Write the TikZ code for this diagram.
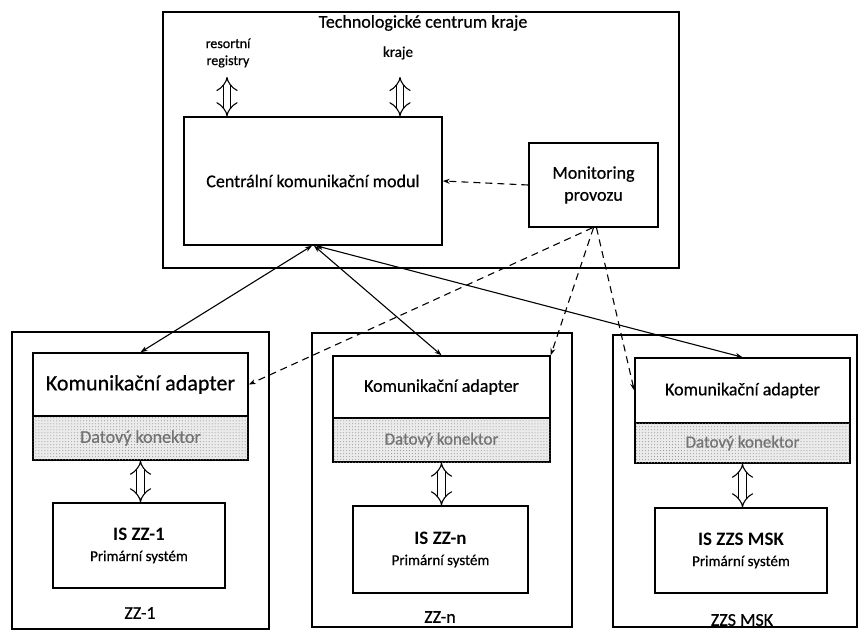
\documentclass[tikz,border=0pt]{standalone}
\usepackage{fontspec}
\setmainfont{Carlito}[UprightFeatures={FakeBold=0.6}]
\usetikzlibrary{arrows.meta,patterns}

\tikzset{
  box/.style={draw, line width=1.5bp, inner sep=0pt},
  adapter/.style={box, fill=white},
  konektor/.style={box, fill=black!8, postaction={pattern=dots, pattern color=black!45},
    text=black!55},
  fs/.style={font=\fontsize{#1bp}{#1bp}\selectfont},
  islabel/.style={box, align=center, font=\fontsize{15bp}{18bp}\selectfont},
  link/.style={line width=1.1bp, {Stealth[length=7bp,width=5bp]}-{Stealth[length=7bp,width=5bp]}},
  watch/.style={line width=1.1bp, dash pattern=on 7bp off 5bp, -{Stealth[length=7bp,width=5bp]}},
  hollow/.style={double distance=6.5bp, line width=1.1bp, {Implies[]}-{Implies[]}},
}

\begin{document}
\begin{tikzpicture}[x=1bp,y=-1bp]
  \useasboundingbox[fill=white] (0,0) rectangle (860,639);

  % Technologické centrum kraje
  \node[box, minimum width=516bp, minimum height=256bp] (tc) at (421,140) {};
  \node[fs=18] (tctitle) at (423,23) {Technologické centrum kraje};
  \node[align=center, font=\fontsize{14bp}{17bp}\selectfont] (rr) at (228,53) {resortní\\registry};
  \node[fs=15] (kr) at (398,53) {kraje};
  \coordinate (rrEnd) at (227,77);
  \coordinate (krEnd) at (400,77);

  \node[box, minimum width=258bp, minimum height=128bp, fs=18] (cm) at (313,181) {Centrální komunikační modul};
  \node[box, minimum width=129bp, minimum height=84bp, align=center,
        font=\fontsize{18bp}{22bp}\selectfont] (mon) at (593.5,185) {Monitoring\\provozu};

  \draw[hollow] (rrEnd) -- (rrEnd |- cm.north);
  \draw[hollow] (krEnd) -- (krEnd |- cm.north);
  \draw[watch] (mon.west) -- (cm.east);

  % ZZ-1
  \node[box, minimum width=257bp, minimum height=297bp] (zz1) at (140.5,480.5) {};
  \node[adapter, minimum width=215bp, minimum height=63bp, fs=22] (ka1) at (140.5,384.5) {Komunikační adapter};
  \node[konektor, minimum width=215bp, minimum height=44bp, fs=18] (dk1) at (140.5,438) {Datový konektor};
  \node[islabel, minimum width=172bp, minimum height=85bp] (is1) at (139,545.5)
    {{\fontsize{19bp}{22bp}\selectfont\bfseries IS ZZ-1}\\[3bp]Primární systém};
  \node[fs=18] (l1) at (140,613) {ZZ-1};
  \draw[hollow] (dk1.south) -- (dk1.south |- is1.north);

  % ZZ-n
  \node[box, minimum width=260bp, minimum height=294bp] (zzn) at (442,480) {};
  \node[adapter, minimum width=217bp, minimum height=62bp, fs=18] (ka2) at (441.5,387) {Komunikační adapter};
  \node[konektor, minimum width=217bp, minimum height=44bp, fs=17] (dk2) at (441.5,440) {Datový konektor};
  \node[islabel, minimum width=175bp, minimum height=87bp] (is2) at (440.5,549.5)
    {{\fontsize{19bp}{22bp}\selectfont\bfseries IS ZZ-n}\\[3bp]Primární systém};
  \node[fs=18] (l2) at (440,617) {ZZ-n};
  \draw[hollow] (dk2.south) -- (dk2.south |- is2.north);

  % ZZS MSK
  \node[box, minimum width=244bp, minimum height=292bp] (zzs) at (735,481) {};
  \node[adapter, minimum width=215bp, minimum height=65bp, fs=18] (ka3) at (742.5,390.5) {Komunikační adapter};
  \node[konektor, minimum width=215bp, minimum height=40bp, fs=17] (dk3) at (742.5,443) {Datový konektor};
  \node[islabel, minimum width=172bp, minimum height=85bp] (is3) at (741,550.5)
    {{\fontsize{19bp}{22bp}\selectfont\bfseries IS ZZS MSK}\\[3bp]Primární systém};
  \node[fs=18] (l3) at (742,620) {ZZS MSK};
  \draw[hollow] (dk3.south) -- (dk3.south |- is3.north);

  % central module to adapters
  \draw[link] ([xshift=-1bp]cm.south) -- (ka1.north);
  \draw[link] ([xshift=1bp]cm.south) -- (ka2.north);
  \draw[link] ([xshift=3bp]cm.south) -- (ka3.north);

  % monitoring of adapters
  \draw[watch] ([xshift=-1bp]mon.south) -- (ka1.east);
  \draw[watch] (mon.south) -- (ka2.north east);
  \draw[watch] ([xshift=3bp]mon.south) -- (ka3.west);
\end{tikzpicture}
\end{document}
